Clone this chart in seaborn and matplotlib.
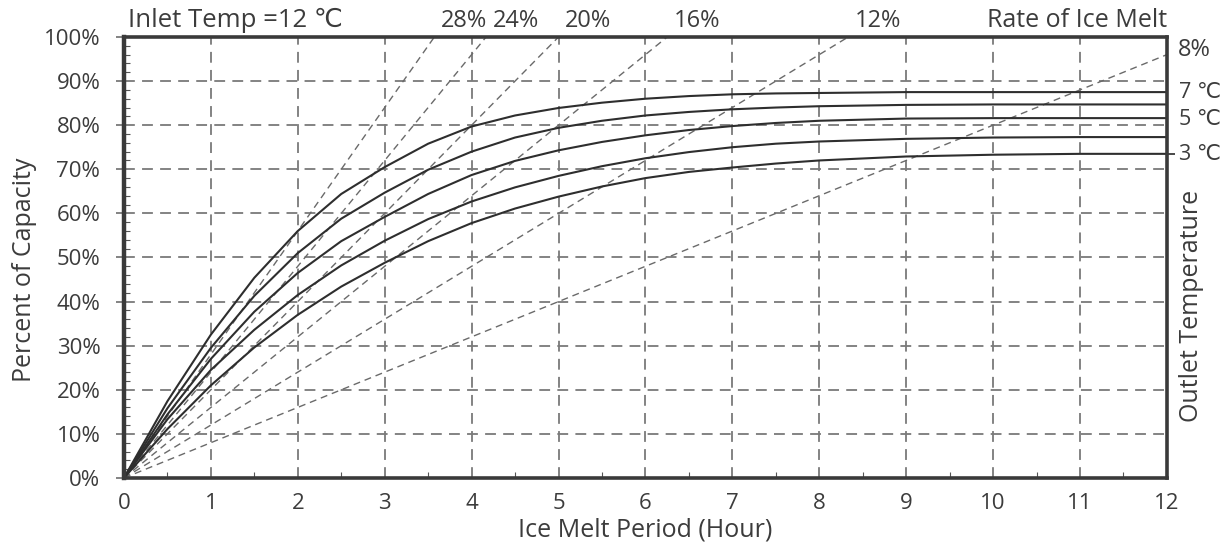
import numpy as np
import pandas as pd
import matplotlib.pyplot as plt
import seaborn as sns

# ----------------------------------------------------------
# Data (percent of capacity vs hours)
# ----------------------------------------------------------
hours = [0, 0.5, 1, 1.5, 2, 2.5, 3, 3.5, 4, 4.5, 5, 5.5, 6, 6.5, 7, 7.5, 8, 9, 10, 11, 12]
cap_7c = [0, 17.4, 32.5, 45.4, 56.0, 64.4, 70.5, 75.8, 79.7, 82.2, 83.9, 85.1, 86.0, 86.6, 87.0, 87.2, 87.3, 87.5, 87.5, 87.5, 87.5]
cap_6c = [0, 15.8, 29.5, 41.3, 51.0, 58.8, 64.7, 69.9, 74.0, 77.2, 79.4, 81.0, 82.2, 83.0, 83.6, 84.0, 84.3, 84.6, 84.7, 84.7, 84.7]
cap_5c = [0, 14.4, 27.0, 37.7, 46.5, 53.7, 59.2, 64.4, 68.7, 71.9, 74.3, 76.2, 77.7, 78.9, 79.8, 80.5, 81.0, 81.5, 81.6, 81.6, 81.6]
cap_4c = [0, 13.3, 24.5, 33.6, 41.5, 48.2, 53.8, 58.7, 62.7, 65.9, 68.5, 70.7, 72.5, 73.9, 75.0, 75.8, 76.3, 76.9, 77.2, 77.3, 77.3]
cap_3c = [0, 11.1, 21.0, 29.6, 37.0, 43.4, 48.8, 53.7, 57.8, 61.1, 63.8, 66.1, 68.0, 69.4, 70.4, 71.3, 72.0, 72.9, 73.3, 73.5, 73.5]

outlet_temps = ["7 ℃", "6 ℃", "5 ℃", "4 ℃", "3 ℃"]
labelled_temps = ["7 ℃", "5 ℃", "3 ℃"]

melt_rates = [28, 24, 20, 16, 12, 8]          # % per hour
rate_hours = [0, 12]

x_ticks = list(range(0, 13))
y_ticks = list(range(0, 101, 10))

# ----------------------------------------------------------
# Long-form tables
# ----------------------------------------------------------
curves = pd.DataFrame({
    "hour": hours * 5,
    "pct": cap_7c + cap_6c + cap_5c + cap_4c + cap_3c,
    "temp": [t for t in outlet_temps for _ in hours],
})
end_pct = curves[curves["hour"] == 12].set_index("temp")["pct"]

sns.set_theme(style="white")
plt.rcParams["font.family"] = ["Open Sans", "DejaVu Sans"]
txt_color = "#3c3c3c"
grid_color = "#7a7a7a"

fig = plt.figure(figsize=(12.32, 5.51), dpi=100)
ax = fig.add_axes([0.1006, 0.1325, 0.8466, 0.8004])

# rate-of-melt reference lines
for r in melt_rates:
    sns.lineplot(x=rate_hours, y=[r * h for h in rate_hours], ax=ax,
                 color="#6a6a6a", linewidth=1.0, linestyle=(0, (5, 3.5)))

# capacity curves
sns.lineplot(data=curves, x="hour", y="pct", hue="temp",
             palette={t: "#2e2e2e" for t in outlet_temps},
             linewidth=1.5, legend=False, ax=ax, sort=False)

ax.set_xlim(0, 12)
ax.set_ylim(0, 100)
ax.set_xticks(x_ticks)
ax.set_yticks(y_ticks)
ax.set_yticklabels([f"{v}%" for v in y_ticks])
ax.set_xticks(np.arange(0.5, 12, 1), minor=True)
ax.set_yticks(np.arange(0, 101, 2), minor=True)
ax.grid(True, which="major", color=grid_color, linestyle=(0, (6, 4)), linewidth=1.3)
ax.tick_params(axis="y", which="major", direction="out", length=6, width=1.3,
               color=grid_color, labelsize=16, labelcolor=txt_color, pad=11, left=True)
ax.tick_params(axis="y", which="minor", direction="in", length=4.5, width=0.8,
               color="#555555", left=True)
ax.tick_params(axis="x", which="major", length=0, labelsize=16,
               labelcolor=txt_color, pad=11)
ax.tick_params(axis="x", which="minor", direction="in", length=4, width=0.8,
               color="#555555", bottom=True)
ax.set_xlabel("")
ax.set_ylabel("")
for side in ["left", "right", "top", "bottom"]:
    ax.spines[side].set_color("#3a3a3a")
    ax.spines[side].set_linewidth(2.6)
ax.spines["left"].set_linewidth(3.2)

# small outward tick on the right frame at the 3 ℃ curve end
right = ax.twinx()
right.set_ylim(0, 100)
right.set_yticks([end_pct["3 ℃"]])
right.set_yticklabels([""])
right.tick_params(axis="y", direction="out", length=6, width=1.3, color="#3a3a3a")
right.grid(False)
for side in ["left", "right", "top", "bottom"]:
    right.spines[side].set_visible(False)

# rate labels above the frame
for r in melt_rates[:-1]:
    ax.text(100 / r + 0.34, 100.8, f"{r}%", ha="center", va="bottom",
            fontsize=17, color=txt_color)
ax.text(12.12, 97, f"{melt_rates[-1]}%", ha="left", va="center",
        fontsize=17, color=txt_color, clip_on=False)

ax.text(0.05, 100.8, "Inlet Temp =12 ℃", ha="left", va="bottom",
        fontsize=18.5, color=txt_color)
ax.text(12, 100.8, "Rate of Ice Melt", ha="right", va="bottom",
        fontsize=18, color=txt_color)

for t in labelled_temps:
    ax.text(12.14, end_pct[t] - 0.2, t, ha="left", va="center",
            fontsize=15.5, color=txt_color, clip_on=False)

ax.text(1.024, 0.39, "Outlet Temperature", transform=ax.transAxes,
        rotation=90, ha="center", va="center", fontsize=18, color=txt_color)
fig.text(0.02, 0.51, "Percent of Capacity", rotation=90,
         ha="center", va="center", fontsize=18, color=txt_color)
fig.text(0.5235, 0.038, "Ice Melt Period (Hour)",
         ha="center", va="center", fontsize=18, color=txt_color)

fig.savefig("out.png", dpi=100)
